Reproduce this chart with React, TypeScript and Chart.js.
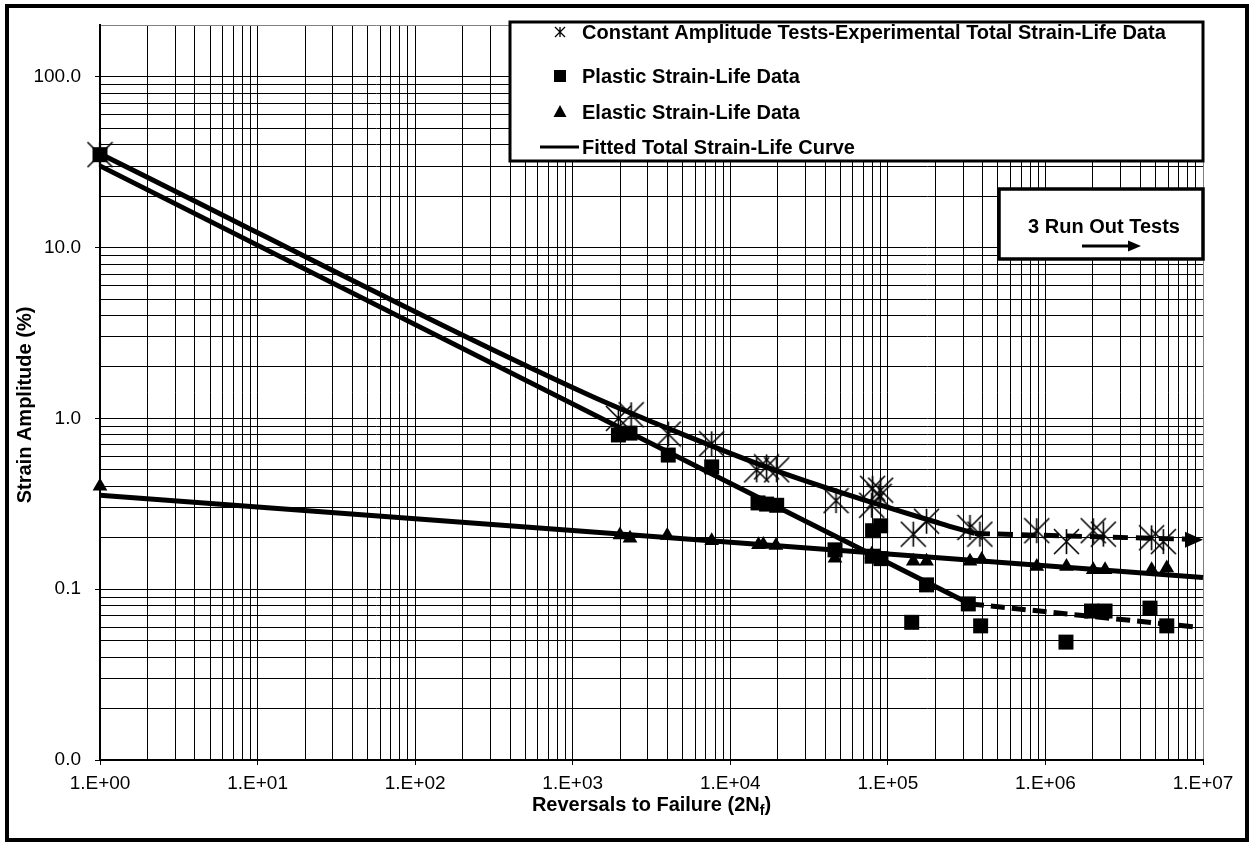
import React, { useEffect, useRef } from 'react';
import { Chart, registerables } from 'chart.js';

Chart.register(...registerables);

const FONT = '"Liberation Sans", Arial, Helvetica, sans-serif';

// Axis decades and tick labels
const xDecades = [1, 1e1, 1e2, 1e3, 1e4, 1e5, 1e6, 1e7];
const xTickLabels = ['1.E+00', '1.E+01', '1.E+02', '1.E+03', '1.E+04', '1.E+05', '1.E+06', '1.E+07'];
const yDecades = [0.01, 0.1, 1, 10, 100];
const yTickLabels = ['0.0', '0.1', '1.0', '10.0', '100.0'];
const minorSteps = [2, 3, 4, 5, 6, 7, 8, 9];
const xMin = 1;
const xMax = 1e7;
const yMin = 0.01;
const yMax = 200;

// Constant amplitude tests - total strain data
const totalX = [1, 1950, 2350, 4040, 7620, 14700, 17000, 19700, 46900, 79000, 80000, 88000, 90000, 145000, 176000, 332000, 384000, 881000, 1360000, 2010000, 2330000, 4720000, 5600000];
const totalY = [35, 1.0, 1.05, 0.81, 0.71, 0.5, 0.52, 0.5, 0.33, 0.31, 0.39, 0.35, 0.38, 0.21, 0.25, 0.23, 0.21, 0.22, 0.19, 0.22, 0.21, 0.2, 0.19];

// Plastic strain-life data
const plasticX = [1, 1950, 2310, 4040, 7620, 15000, 17000, 19700, 46200, 79400, 80000, 90000, 90400, 141700, 176000, 324000, 388000, 1350000, 1960000, 2390000, 4610000, 5890000];
const plasticY = [35, 0.8, 0.82, 0.61, 0.52, 0.32, 0.315, 0.31, 0.17, 0.156, 0.22, 0.235, 0.151, 0.064, 0.106, 0.082, 0.061, 0.049, 0.0745, 0.0745, 0.0775, 0.061];

// Elastic strain-life data
const elasticX = [1, 1995, 2310, 3980, 7620, 15100, 16200, 19500, 46200, 79000, 89000, 145000, 176000, 332000, 394000, 881000, 1360000, 2010000, 2390000, 4720000, 5890000];
const elasticY = [0.4, 0.208, 0.199, 0.206, 0.192, 0.182, 0.183, 0.18, 0.152, 0.16, 0.155, 0.146, 0.146, 0.146, 0.149, 0.136, 0.136, 0.13, 0.13, 0.13, 0.133];

// Fitted curves
const totalFitX = [1, 1288, 3412, 20700, 214000, 357000];
const totalFitY = [35.5, 1.36, 0.93, 0.485, 0.243, 0.212];
const totalRunX = [357000, 1e7];
const totalRunY = [0.212, 0.195];
const plasticFitX = [1, 332000];
const plasticFitY = [30.1, 0.082];
const plasticRunX = [332000, 9e6];
const plasticRunY = [0.082, 0.06];
const elasticFitX = [1, 1e7];
const elasticFitY = [0.355, 0.117];

const legendLabels = [
  'Constant Amplitude Tests-Experimental Total Strain-Life Data',
  'Plastic Strain-Life Data',
  'Elastic Strain-Life Data',
  'Fitted Total Strain-Life Curve',
];
const runOutText = '3 Run Out Tests';
const yTitle = 'Strain Amplitude (%)';
const xTitleMain = 'Reversals to Failure (2N';
const xTitleSub = 'f';
const xTitleEnd = ')';

const zip = (xs: number[], ys: number[]) => xs.map((x, i) => ({ x, y: ys[i] }));

const buildTicks = (decades: number[], max: number) => {
  const out: { value: number }[] = [];
  decades.forEach((d) => {
    out.push({ value: d });
    minorSteps.forEach((m) => {
      const v = Number((d * m).toPrecision(6));
      if (v <= max * (1 + 1e-9)) out.push({ value: v });
    });
  });
  return out;
};

const decadeIndex = (decades: number[], v: number) =>
  decades.findIndex((d) => Math.abs(d - v) / d < 1e-9);

const makeStar = (size: number, lw: number) => {
  const c = document.createElement('canvas');
  c.width = size;
  c.height = size;
  const g = c.getContext('2d')!;
  g.strokeStyle = '#000';
  g.lineWidth = lw;
  const m = 1;
  g.beginPath();
  g.moveTo(m, m);
  g.lineTo(size - m, size - m);
  g.moveTo(size - m, m);
  g.lineTo(m, size - m);
  g.moveTo(size / 2, m);
  g.lineTo(size / 2, size - m);
  g.stroke();
  return c;
};

const drawStarAt = (ctx: CanvasRenderingContext2D, x: number, y: number, r: number) => {
  ctx.beginPath();
  ctx.moveTo(x - r, y - r);
  ctx.lineTo(x + r, y + r);
  ctx.moveTo(x + r, y - r);
  ctx.lineTo(x - r, y + r);
  ctx.moveTo(x, y - r);
  ctx.lineTo(x, y + r);
  ctx.stroke();
};

const overlayPlugin = {
  id: 'overlay',
  beforeDraw(chart: any) {
    const { ctx, width, height } = chart;
    ctx.save();
    ctx.fillStyle = '#fff';
    ctx.fillRect(0, 0, width, height);
    ctx.restore();
  },
  afterDraw(chart: any) {
    const ctx: CanvasRenderingContext2D = chart.ctx;
    const xs = chart.scales.x;
    const ys = chart.scales.y;
    ctx.save();

    // arrow head at end of total run-out line
    const n = totalRunX.length - 1;
    const tx = xs.getPixelForValue(totalRunX[n]);
    const ty = ys.getPixelForValue(totalRunY[n]);
    ctx.fillStyle = '#000';
    ctx.beginPath();
    ctx.moveTo(tx, ty);
    ctx.lineTo(tx - 18, ty - 8);
    ctx.lineTo(tx - 18, ty + 8);
    ctx.closePath();
    ctx.fill();

    // legend box
    const lx0 = 510, ly0 = 22, lx1 = xs.right, ly1 = 161;
    ctx.fillStyle = '#fff';
    ctx.fillRect(lx0, ly0, lx1 - lx0, ly1 - ly0);
    ctx.strokeStyle = '#000';
    ctx.lineWidth = 3;
    ctx.strokeRect(lx0, ly0, lx1 - lx0, ly1 - ly0);
    const rows = [32, 76, 112, 147];
    const mx = 560;
    ctx.fillStyle = '#000';
    ctx.strokeStyle = '#000';
    ctx.lineWidth = 1.3;
    drawStarAt(ctx, mx, rows[0], 5);
    ctx.fillRect(mx - 6, rows[1] - 6, 12, 12);
    ctx.beginPath();
    ctx.moveTo(mx, rows[2] - 7);
    ctx.lineTo(mx + 6.5, rows[2] + 5);
    ctx.lineTo(mx - 6.5, rows[2] + 5);
    ctx.closePath();
    ctx.fill();
    ctx.lineWidth = 3;
    ctx.beginPath();
    ctx.moveTo(540, rows[3]);
    ctx.lineTo(579, rows[3]);
    ctx.stroke();
    ctx.font = `bold 20px ${FONT}`;
    ctx.textBaseline = 'middle';
    ctx.textAlign = 'left';
    legendLabels.forEach((t, i) => ctx.fillText(t, 582, rows[i] + 1));

    // run out box
    const bx0 = 999, by0 = 189, bx1 = xs.right, by1 = 259;
    ctx.fillStyle = '#fff';
    ctx.fillRect(bx0, by0, bx1 - bx0, by1 - by0);
    ctx.strokeStyle = '#000';
    ctx.lineWidth = 3.5;
    ctx.strokeRect(bx0, by0, bx1 - bx0, by1 - by0);
    ctx.fillStyle = '#000';
    ctx.textAlign = 'center';
    ctx.fillText(runOutText, 1104, 227);
    ctx.lineWidth = 3;
    ctx.beginPath();
    ctx.moveTo(1082, 246);
    ctx.lineTo(1130, 246);
    ctx.stroke();
    ctx.beginPath();
    ctx.moveTo(1141, 246);
    ctx.lineTo(1128, 240.5);
    ctx.lineTo(1128, 251.5);
    ctx.closePath();
    ctx.fill();

    // axis titles
    ctx.font = `bold 20px ${FONT}`;
    ctx.save();
    ctx.translate(25, 405);
    ctx.rotate(-Math.PI / 2);
    ctx.textAlign = 'center';
    ctx.textBaseline = 'middle';
    ctx.fillText(yTitle, 0, 0);
    ctx.restore();

    ctx.textAlign = 'left';
    ctx.textBaseline = 'middle';
    ctx.font = `bold 20px ${FONT}`;
    const w1 = ctx.measureText(xTitleMain).width;
    const w3 = ctx.measureText(xTitleEnd).width;
    ctx.font = `bold 14px ${FONT}`;
    const w2 = ctx.measureText(xTitleSub).width;
    const cx = (xs.left + xs.right) / 2;
    let sx = cx - (w1 + w2 + w3) / 2;
    const ty2 = 805;
    ctx.font = `bold 20px ${FONT}`;
    ctx.fillText(xTitleMain, sx, ty2);
    sx += w1;
    ctx.font = `bold 14px ${FONT}`;
    ctx.fillText(xTitleSub, sx, ty2 + 6);
    sx += w2;
    ctx.font = `bold 20px ${FONT}`;
    ctx.fillText(xTitleEnd, sx, ty2);

    // outer frame
    ctx.strokeStyle = '#000';
    ctx.lineWidth = 4;
    ctx.strokeRect(7, 6, 1240, 834);
    ctx.restore();
  },
};

export default function App() {
  const ref = useRef<HTMLCanvasElement | null>(null);

  useEffect(() => {
    if (!ref.current) return;
    const star = makeStar(27, 1.6);
    const xTicks = buildTicks(xDecades, xMax);
    const yTicks = buildTicks(yDecades, yMax);

    const gridFor = (decades: number[], edge: number) => ({
      display: true,
      drawTicks: true,
      tickLength: 5,
      lineWidth: 1,
      color: (c: any) =>
        c.tick && Math.abs(c.tick.value - edge) / edge < 1e-9 ? '#808080' : '#000',
      tickColor: (c: any) =>
        c.tick && decadeIndex(decades, c.tick.value) >= 0 ? '#000' : 'rgba(0,0,0,0)',
      tickWidth: 1,
    });

    const lineDs = (label: string, xsArr: number[], ysArr: number[], dash: number[] = [], smooth = false) => ({
      label,
      data: zip(xsArr, ysArr),
      showLine: true,
      borderColor: '#000',
      backgroundColor: '#000',
      borderWidth: 5,
      borderDash: dash,
      pointRadius: 0,
      tension: 0,
      cubicInterpolationMode: smooth ? 'monotone' : 'default',
      clip: false,
    });

    const chart = new Chart(ref.current, {
      type: 'scatter',
      data: {
        datasets: [
          lineDs('Fitted Total Strain-Life Curve', totalFitX, totalFitY, [], true),
          lineDs('Total run out', totalRunX, totalRunY, [15, 8]),
          lineDs('Plastic fit', plasticFitX, plasticFitY),
          lineDs('Plastic run out', plasticRunX, plasticRunY, [14, 7]),
          lineDs('Elastic fit', elasticFitX, elasticFitY),
          {
            label: legendLabels[0],
            data: zip(totalX, totalY),
            showLine: false,
            pointStyle: star as any,
            pointRadius: 13,
            borderColor: '#000',
            backgroundColor: '#000',
            clip: false,
          },
          {
            label: legendLabels[1],
            data: zip(plasticX, plasticY),
            showLine: false,
            pointStyle: 'rect',
            pointRadius: 10.6,
            borderWidth: 0,
            borderColor: '#000',
            backgroundColor: '#000',
            clip: false,
          },
          {
            label: legendLabels[2],
            data: zip(elasticX, elasticY),
            showLine: false,
            pointStyle: 'triangle',
            pointRadius: 8.5,
            borderWidth: 0,
            borderColor: '#000',
            backgroundColor: '#000',
            clip: false,
          },
        ] as any,
      },
      options: {
        responsive: false,
        animation: false,
        devicePixelRatio: 1,
        events: [],
        layout: { padding: { left: 10, right: 47, top: 20, bottom: 10 } },
        plugins: {
          legend: { display: false },
          tooltip: { enabled: false },
          title: { display: false },
        },
        scales: {
          x: {
            type: 'logarithmic',
            position: 'bottom',
            min: xMin,
            max: xMax,
            afterBuildTicks: (s: any) => {
              s.ticks = xTicks.map((t) => ({ ...t }));
            },
            afterFit: (s: any) => {
              s.height = 72;
            },
            ticks: {
              autoSkip: false,
              maxRotation: 0,
              minRotation: 0,
              padding: 7,
              color: '#000',
              font: { family: FONT, size: 19 },
              callback: (v: any) => {
                const i = decadeIndex(xDecades, Number(v));
                return i >= 0 ? xTickLabels[i] : '';
              },
            },
            grid: gridFor(xDecades, xMax) as any,
            border: { display: true, color: '#000', width: 2 },
          },
          y: {
            type: 'logarithmic',
            position: 'left',
            min: yMin,
            max: yMax,
            afterBuildTicks: (s: any) => {
              s.ticks = yTicks.map((t) => ({ ...t }));
            },
            afterFit: (s: any) => {
              s.width = 90;
            },
            ticks: {
              autoSkip: false,
              padding: 14,
              color: '#000',
              font: { family: FONT, size: 19 },
              callback: (v: any) => {
                const i = decadeIndex(yDecades, Number(v));
                return i >= 0 ? yTickLabels[i] : '';
              },
            },
            grid: gridFor(yDecades, yMax) as any,
            border: { display: true, color: '#000', width: 2 },
          },
        },
      } as any,
      plugins: [overlayPlugin],
    });

    return () => chart.destroy();
  }, []);

  return (
    <div style={{ position: 'fixed', left: 0, top: 0, width: 1250, height: 842, background: '#fff' }}>
      <canvas ref={ref} width={1250} height={842} style={{ display: 'block', width: 1250, height: 842 }} />
    </div>
  );
}
